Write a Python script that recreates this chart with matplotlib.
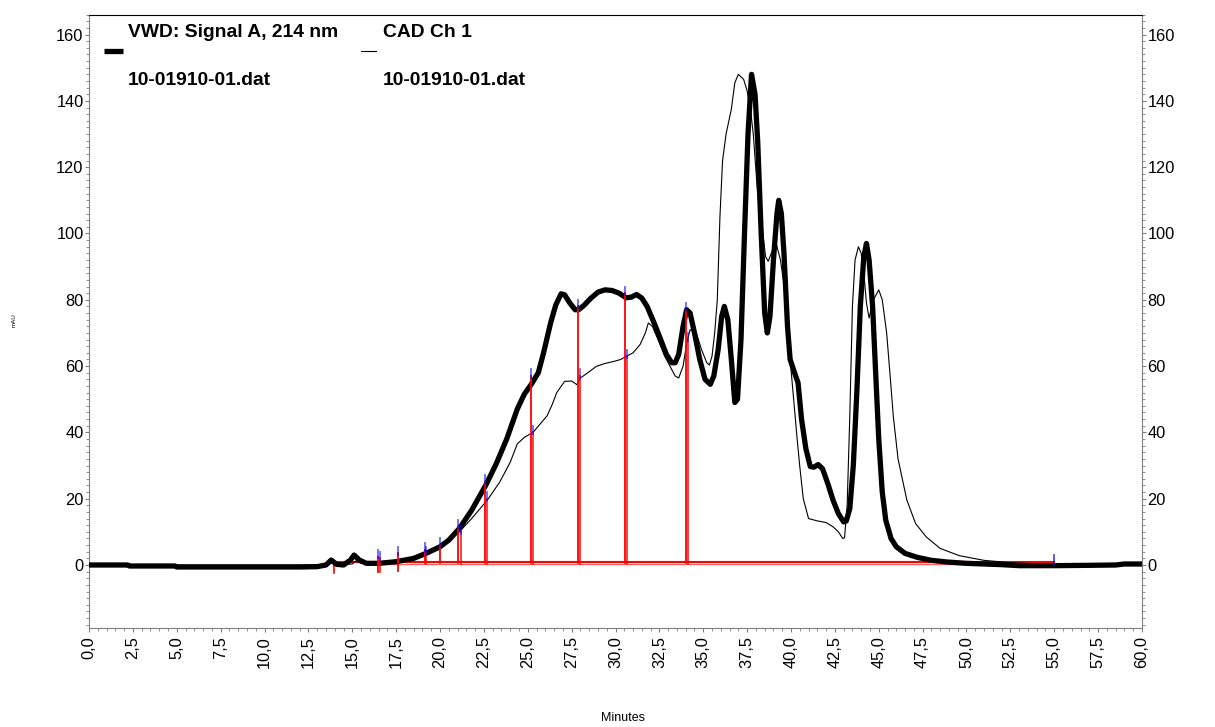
import numpy as np
import matplotlib
matplotlib.use("Agg")
import matplotlib.pyplot as plt
from matplotlib.ticker import MultipleLocator, FuncFormatter

plt.rcParams['font.family'] = ['Liberation Sans', 'DejaVu Sans']

# VWD: Signal A, 214 nm (thick trace)
vwd_t = [0.0, 2.2, 2.3, 4.9, 5.0, 12.0, 13.0, 13.5, 13.8, 14.1, 14.5, 14.9, 15.1, 15.4, 15.8,
         16.5, 17.5, 18.5, 19.2, 20.0, 20.5, 21.1, 21.8, 22.6, 23.2, 23.8, 24.4, 24.8, 25.2,
         25.6, 25.9, 26.3, 26.6, 26.9, 27.1, 27.4, 27.7, 27.9, 28.2, 28.6, 29.0, 29.4, 29.8,
         30.2, 30.6, 30.9, 31.2, 31.5, 31.8, 32.2, 32.5, 32.9, 33.2, 33.4, 33.6, 33.85, 34.05,
         34.25, 34.5, 34.8, 35.1, 35.4, 35.6, 35.85, 36.05, 36.2, 36.4, 36.6, 36.8, 36.95,
         37.15, 37.35, 37.55, 37.75, 37.95, 38.1, 38.3, 38.5, 38.65, 38.8, 39.0, 39.2, 39.3,
         39.45, 39.6, 39.8, 39.95, 40.2, 40.4, 40.6, 40.85, 41.1, 41.3, 41.55, 41.8, 42.1,
         42.4, 42.7, 43.0, 43.15, 43.35, 43.55, 43.75, 43.95, 44.15, 44.3, 44.45, 44.65, 44.85,
         45.0, 45.2, 45.4, 45.7, 46.0, 46.5, 47.2, 48.0, 48.9, 50.0, 52.0, 53.0, 55.0, 57.0,
         58.5, 59.0, 60.0]
vwd_y = [0.0, 0.0, -0.3, -0.3, -0.6, -0.6, -0.5, 0.0, 1.5, 0.2, 0.0, 1.5, 3.0, 1.5, 0.5,
         0.5, 1.0, 2.0, 3.5, 5.5, 7.5, 11.0, 16.5, 24.0, 30.5, 38.0, 47.0, 51.5, 54.5,
         58.0, 64.0, 73.0, 78.5, 81.8, 81.5, 79.0, 77.0, 77.0, 78.3, 80.5, 82.3, 83.0, 82.8,
         82.0, 80.6, 80.8, 81.6, 80.5, 78.0, 73.0, 69.0, 63.5, 61.0, 61.0, 63.5, 72.0, 77.0,
         76.0, 70.0, 62.0, 56.0, 54.5, 57.0, 65.0, 75.0, 78.0, 74.0, 62.0, 49.0, 50.0,
         68.0, 100.0, 130.0, 148.0, 142.0, 128.0, 100.0, 76.0, 70.0, 75.0, 92.0, 106.0, 110.0,
         106.0, 94.0, 72.0, 62.0, 58.0, 55.0, 44.0, 35.0, 29.7, 29.5, 30.3, 29.0, 24.5,
         19.5, 15.5, 13.0, 13.3, 17.0, 30.0, 52.0, 78.0, 93.0, 97.0, 92.0, 78.0, 55.0,
         38.0, 22.0, 13.5, 8.0, 5.5, 3.5, 2.3, 1.4, 0.9, 0.5, 0.1, -0.2, -0.2, -0.1,
         0.0, 0.3, 0.3]

# CAD Ch 1 (thin trace)
cad_t = [0.0, 13.5, 13.9, 14.3, 15.0, 15.2, 15.5, 16.5, 17.5, 18.5, 19.2, 20.0, 21.1, 21.8,
         22.7, 23.4, 24.0, 24.4, 24.8, 25.3, 25.7, 26.1, 26.4, 26.65, 27.1, 27.5, 27.8, 28.0,
         28.5, 28.9, 29.4, 29.9, 30.3, 30.6, 31.0, 31.4, 31.7, 31.87, 32.1, 32.5, 32.8, 33.1,
         33.4, 33.6, 33.85, 34.06, 34.25, 34.6, 34.9, 35.2, 35.35, 35.5, 35.65, 35.8, 35.95,
         36.1, 36.3, 36.6, 36.8, 37.0, 37.3, 37.5, 37.7, 37.85, 38.1, 38.4, 38.55, 38.7,
         38.95, 39.18, 39.4, 39.56, 39.75, 39.95, 40.15, 40.35, 40.5, 40.7, 41.0, 41.5, 42.0,
         42.4, 42.7, 42.95, 43.05, 43.2, 43.35, 43.5, 43.65, 43.84, 44.0, 44.15, 44.3, 44.45,
         44.7, 45.0, 45.2, 45.45, 45.65, 45.83, 46.1, 46.6, 47.1, 47.7, 48.5, 49.6, 51.0,
         52.5, 55.0, 57.0, 60.0]
cad_y = [0.0, 0.0, 0.8, 0.1, 0.3, 1.2, 0.5, 0.3, 0.7, 1.5, 3.0, 5.0, 10.0, 14.0,
         19.6, 25.0, 31.0, 36.5, 38.5, 40.0, 42.5, 45.0, 48.5, 52.0, 55.4, 55.5, 54.4, 56.4,
         58.3, 59.9, 60.8, 61.4, 62.0, 62.9, 64.0, 66.5, 70.0, 73.0, 72.0, 67.0, 63.0, 60.0,
         57.0, 56.4, 60.0, 67.0, 71.0, 70.0, 65.0, 61.0, 60.3, 63.0, 70.0, 80.0, 105.0,
         122.0, 130.0, 137.5, 145.5, 148.0, 146.5, 143.0, 137.0, 130.0, 112.0, 100.0, 93.0, 91.6,
         95.0, 96.5, 92.0, 86.0, 78.0, 62.0, 50.0, 38.0, 29.7, 20.0, 14.0, 13.3, 12.8,
         11.5, 10.0, 8.0, 8.2, 18.0, 45.0, 78.0, 92.0, 96.0, 94.0, 88.0, 79.0, 74.5,
         80.0, 83.0, 80.0, 70.0, 57.0, 44.8, 32.0, 19.6, 12.5, 8.5, 5.0, 2.8, 1.4,
         0.7, 0.2, 0.1, 0.1]

# integration markers (peak boundaries)
vwd_cut_t = [16.45, 17.59, 19.15, 20.0, 21.05, 22.56, 25.19, 27.88, 30.54, 34.02]
vwd_cut_top = [2.5, 3.5, 4.5, 6.0, 11.5, 25.0, 57.0, 78.0, 82.0, 77.0]
vwd_cut_bot = [-2.0, -1.7, 0.5, 0.5, 0.5, 0.5, 0.5, 0.5, 0.5, 0.5]
cad_cut_t = [16.58, 19.22, 21.18, 22.7, 25.32, 27.98, 30.63, 34.15]
cad_cut_top = [2.0, 3.5, 10.0, 20.0, 40.0, 57.0, 63.0, 68.0]
cad_cut_bot = [-2.0, 0.2, 0.2, 0.2, 0.2, 0.2, 0.2, 0.2]

fig = plt.figure(figsize=(12.15, 7.27), dpi=100)
ax = fig.add_axes([0.0733, 0.1362, 0.8666, 0.8436])

# red baselines
ax.plot([13.98, 55.0], [0.8, 0.8], color='red', lw=1.5, zorder=2)
ax.plot([16.5, 55.0], [0.2, 0.2], color='red', lw=1.0, alpha=0.6, zorder=2)
ax.plot([13.98, 13.98], [1.0, -2.5], color='red', lw=1.2, zorder=2)

ax.plot(cad_t, cad_y, color='black', lw=0.8, zorder=3)
ax.plot(vwd_t, vwd_y, color='black', lw=3.8, solid_capstyle='round', zorder=4)

for t, top, bot in zip(vwd_cut_t, vwd_cut_top, vwd_cut_bot):
    ax.plot([t, t], [bot, top], color='red', lw=1.3, zorder=5)
    ax.plot([t, t], [top - 0.5, top + 2.0], color='blue', lw=1.3, alpha=0.6, zorder=6)
for t, top, bot in zip(cad_cut_t, cad_cut_top, cad_cut_bot):
    ax.plot([t, t], [bot, top], color='red', lw=1.3, alpha=0.8, zorder=5)
    ax.plot([t, t], [top - 0.5, top + 2.0], color='blue', lw=1.3, alpha=0.6, zorder=6)
ax.plot([55.0, 55.0], [0.0, 3.0], color='blue', lw=1.3, alpha=0.7, zorder=6)

ax.set_xlim(0, 60)
ax.set_ylim(-19, 166)

ax.xaxis.set_major_locator(MultipleLocator(2.5))
ax.xaxis.set_minor_locator(MultipleLocator(0.5))
ax.yaxis.set_major_locator(MultipleLocator(20))
ax.yaxis.set_minor_locator(MultipleLocator(2))
ax.xaxis.set_major_formatter(FuncFormatter(lambda v, p: f"{v:.1f}".replace('.', ',')))
ax.yaxis.set_major_formatter(FuncFormatter(lambda v, p: f"{v:.0f}" if v >= 0 else ""))

ax.tick_params(axis='x', which='major', direction='out', length=3, color='#808080',
               labelsize=11.8, labelrotation=90, pad=3)
ax.tick_params(axis='x', which='minor', direction='out', length=2, color='#808080')
ax.tick_params(axis='y', which='major', direction='out', length=3, color='#808080',
               labelsize=11.8, left=True, right=True, labelleft=True, labelright=True, pad=1)
ax.tick_params(axis='y', which='minor', direction='out', length=2, color='#808080',
               left=True, right=True)
for lab in ax.get_xticklabels():
    lab.set_va('top')

for s in ['left', 'bottom', 'right']:
    ax.spines[s].set_color('#808080')
ax.spines['top'].set_color('black')

fig.text(0.5125, 0.012, "Minutes", fontsize=9, ha='center', va='center')
fig.text(0.0115, 0.56, "mAU", fontsize=4.5, rotation=90, ha='center', va='center')

# legend block
ax.plot([0.85, 1.95], [155.0, 155.0], color='black', lw=3.8, solid_capstyle='butt', zorder=7)
ax.plot([15.5, 16.35], [155.0, 155.0], color='black', lw=0.8, zorder=7)
ax.text(2.2, 160.6, "VWD: Signal A, 214 nm", fontsize=13.9, fontweight='bold', va='center')
ax.text(2.2, 146.1, "10-01910-01.dat", fontsize=13.9, fontweight='bold', va='center')
ax.text(16.75, 160.6, "CAD Ch 1", fontsize=13.9, fontweight='bold', va='center')
ax.text(16.75, 146.1, "10-01910-01.dat", fontsize=13.9, fontweight='bold', va='center')

fig.savefig("out.png", dpi=100)
